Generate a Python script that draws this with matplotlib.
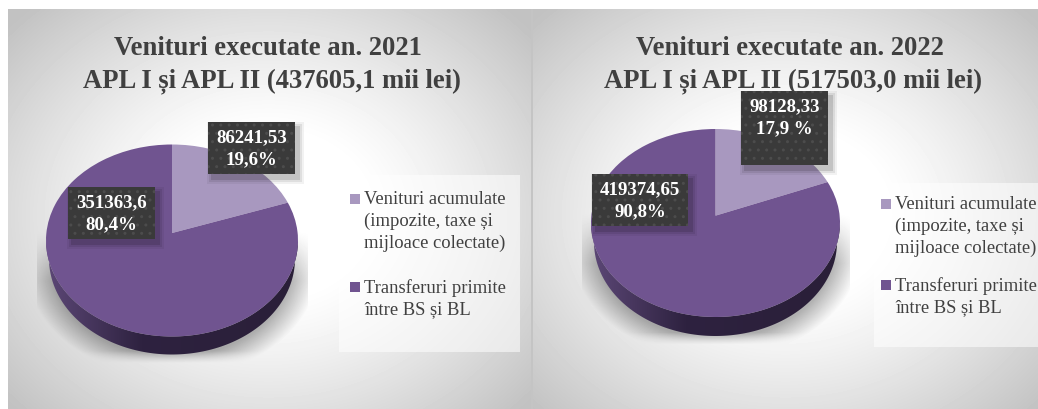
import numpy as np
import matplotlib
matplotlib.use("Agg")
import matplotlib.pyplot as plt
from matplotlib.patches import Rectangle, Polygon
from matplotlib.transforms import Transform

plt.rcParams['font.family'] = ['Liberation Serif', 'DejaVu Serif']

W, H = 1038, 410

categorii = [['Venituri acumulate', '(impozite, taxe și', 'mijloace colectate)'],
             ['Transferuri primite', 'între BS și BL']]
valori_2021 = [86241.53, 351363.6]
valori_2022 = [98128.33, 419374.65]
etichete_2021 = ['86241,53\n19,6%', '351363,6\n80,4%']
etichete_2022 = ['98128,33\n17,9 %', '419374,65\n90,8%']
titlu_2021 = 'Venituri executate an. 2021 \nAPL I și APL II (437605,1 mii lei)'
titlu_2022 = 'Venituri executate an. 2022 \nAPL I și APL II (517503,0 mii lei)'

culori = ['#a898bf', '#705490']
text_gri = '#404040'


class Perspectiva(Transform):
    # moves the pie apex up inside the unit circle, the rim stays on the circle
    input_dims = output_dims = 2
    is_separable = False
    has_inverse = False

    def __init__(self, c):
        super().__init__()
        self.c = c

    def transform_non_affine(self, values):
        v = np.asarray(values)
        w = 1 + self.c * v[:, 1]
        return np.column_stack((v[:, 0] * np.sqrt(1 - self.c ** 2) / w, (v[:, 1] + self.c) / w))


def fundal():
    # radial grey background of the two panels
    yy, xx = np.mgrid[0:H, 0:W]
    img = np.ones((H, W))
    for x0, x1, cx, cy in [(8, 531, 268, 215), (532, W, 785, 215)]:
        r = np.hypot((xx - cx) / 330, (yy - cy) / 270)
        g = 1 - 0.24 * np.clip((r - 0.3) / 0.75, 0, 1) ** 1.2
        masca = (xx >= x0) & (xx < x1) & (yy >= 10)
        img[masca] = g[masca]
    return img


def umbra(img, cx, cy, rx, ry, adanc):
    yy, xx = np.mgrid[0:H, 0:W]
    r = np.hypot((xx - cx) / (rx + 10), (yy - cy - adanc - 6) / (ry + 8))
    a = 0.3 * np.clip((1.08 - r) / 0.2, 0, 1)
    a = a * np.clip((yy - cy + 10) / 50, 0, 1)
    a = a * np.clip((cy + ry + adanc + 8 - yy) / 12, 0, 1)
    a[np.abs(xx - cx) > rx + 9] = 0
    img *= 1 - a


def lateral(ax, cx, cy, rx, ry, adanc):
    # the side of the disc, a horizontal gradient clipped to the lower rim
    t = np.linspace(0, np.pi, 120)
    sus = np.column_stack((cx + rx * np.cos(t), cy + ry * np.sin(t)))
    jos = np.column_stack((cx + (rx - 3) * np.cos(t[::-1]), cy + adanc + ry * np.sin(t[::-1])))
    forma = Polygon(np.vstack((sus, jos)), closed=True, transform=ax.transData, fc='none', ec='none')
    ax.add_patch(forma)
    x = np.linspace(0, 1, 256)
    rgb = np.column_stack([np.interp(x, [0, .38, 1], [c0, c1, c2]) for c0, c1, c2 in
                           [(0x5c, 0x2e, 0x2a), (0x47, 0x22, 0x1f), (0x76, 0x40, 0x38)]])
    im = ax.imshow(rgb[None, :, :] / 255, extent=(cx - rx, cx + rx, cy + ry + adanc + 1, cy),
                   aspect='auto', zorder=2)
    im.set_clip_path(forma)


def eticheta(ax, x0, y0, w, h, text, ty):
    # soft shadow to the lower right, then the dotted box
    for d, a in [(5, .05), (3, .08), (1, .12)]:
        ax.add_patch(Rectangle((x0 - d + 4, y0 - d + 5), w + 2 * d, h + 2 * d, fc='black', ec='none', alpha=a))
    ax.add_patch(Rectangle((x0, y0), w, h, fc='#3a3a3a', ec='#4c4c4c', hatch='..', lw=0))
    ax.text(x0 + w / 2, ty, text, color='white', fontsize=13.6, fontweight='bold', ha='center', va='top',
            linespacing=1.38)


def plotPie(fig, valori, cx, cy, rx, ry, c):
    ax = fig.add_axes([(cx - rx) / W, 1 - (cy + ry) / H, 2 * rx / W, 2 * ry / H], zorder=1)
    wedges, _ = ax.pie(valori, colors=culori, startangle=90, counterclock=False, radius=1)
    ax.set_aspect('auto')
    ax.set_xlim(-1, 1)
    ax.set_ylim(-1, 1)
    ax.patch.set_alpha(0)
    per = Perspectiva(c)
    for w in wedges:
        w.set_transform(per + ax.transData)
        w.set_edgecolor('none')


def plotLegend(ax, x0, y0, w, h, lx, ly):
    ax.add_patch(Rectangle((x0, y0), w, h, fc='white', ec='none', alpha=0.55))
    for i in range(len(categorii)):
        ax.add_patch(Rectangle((lx, ly[i] - 5), 10, 10, fc=culori[i], ec='none'))
        for j, rand in enumerate(categorii[i]):
            ax.text(lx + 14, ly[i] + 21.7 * j, rand, color=text_gri, fontsize=13.4, ha='left', va='center')


if __name__ == "__main__":
    fig = plt.figure(figsize=(W / 100, H / 100), dpi=100)

    spate = fig.add_axes([0, 0, 1, 1], zorder=0)
    spate.axis('off')
    over = fig.add_axes([0, 0, 1, 1], zorder=2)
    over.set_xlim(0, W)
    over.set_ylim(H, 0)
    over.axis('off')

    img = fundal()
    umbra(img, 172, 241.5, 126, 96, 18)
    umbra(img, 715.5, 224, 124.5, 94, 19)
    spate.imshow(img, cmap='gray', vmin=0, vmax=1, extent=(0, W, H, 0), aspect='auto', zorder=0)
    spate.add_patch(Rectangle((531, 10), 1.5, 400, fc='#c4c4c4', ec='none', zorder=1))
    lateral(spate, 172, 241.5, 126, 96, 18)
    lateral(spate, 715.5, 224, 124.5, 94, 19)
    spate.set_xlim(0, W)
    spate.set_ylim(H, 0)

    plotPie(fig, valori_2021, 172, 241.5, 126, 96, 0.078)
    plotPie(fig, valori_2022, 715.5, 224, 124.5, 94, 0.078)

    over.text(271.5, 65, titlu_2021, color=text_gri, fontsize=19.2, fontweight='bold', ha='center', va='center',
              linespacing=1.33)
    over.text(793.5, 65, titlu_2022, color=text_gri, fontsize=19.2, fontweight='bold', ha='center', va='center',
              linespacing=1.33)
    over.text(205, 1, ',', color='black', fontsize=12, ha='center', va='bottom')

    eticheta(over, 208, 123, 87, 52, etichete_2021[0], 129)
    eticheta(over, 68, 188, 87, 52, etichete_2021[1], 194)
    eticheta(over, 741, 92, 87, 74, etichete_2022[0], 98)
    eticheta(over, 592, 175, 96, 52, etichete_2022[1], 181)

    plotLegend(over, 339, 176, 181, 177, 350, [200, 288])
    plotLegend(over, 874, 184, 164, 164, 881, [205, 286])

    fig.savefig('out.png', dpi=100)
